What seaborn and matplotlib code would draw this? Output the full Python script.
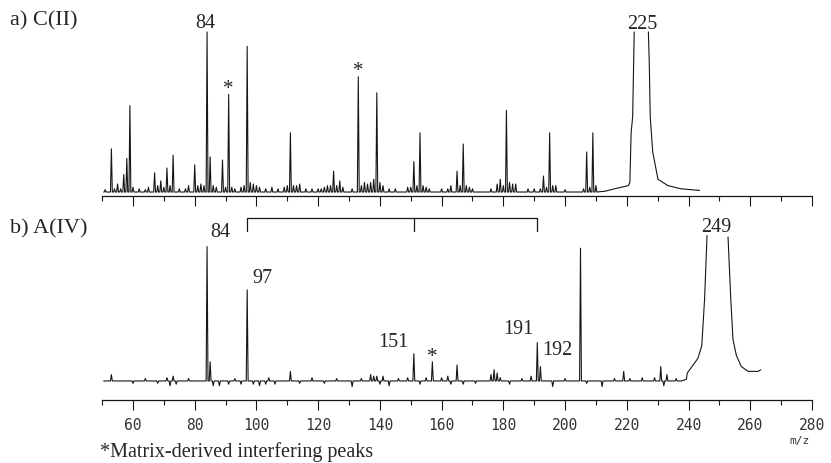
import numpy as np
import pandas as pd
import matplotlib.pyplot as plt
import seaborn as sns

# ---- a) C(II): stick peaks, relative height (m/z 84 = 100)
a_mz = [51, 53, 54, 55, 56, 57, 58, 59, 60, 62, 64, 65, 67, 68, 69, 70, 71, 72, 73, 75,
        77, 78, 80, 81, 82, 83, 84, 85, 86, 87, 89, 90, 91, 92, 93, 95, 96, 97, 98, 99,
        100, 101, 103, 105, 107, 109, 110, 111, 112, 113, 114, 116, 118, 120, 121, 122, 123, 124, 125, 126,
        127, 128, 131, 133, 134, 135, 136, 137, 138, 139, 140, 141, 143, 145, 149, 150, 151, 152, 153, 154,
        155, 156, 160, 162, 163, 165, 166, 167, 168, 169, 170, 176, 178, 179, 180, 181, 182, 183, 184, 188,
        190, 192, 193, 194, 195, 196, 197, 200, 206, 207, 208, 209, 210]
a_int = [1.5, 27, 2, 5, 2, 11, 21, 54, 3, 2, 1.5, 3, 12, 4, 7, 3, 15, 4, 23, 2,
         2, 4, 17, 4, 5, 4, 100, 22, 4, 3, 20, 3, 61, 3, 2, 3, 4, 91, 6, 5,
         4, 3, 2, 3, 2, 3, 4, 37, 4, 4, 5, 2, 2, 2, 2, 3, 4, 4, 13, 4,
         7, 3, 2, 72, 4, 6, 5, 6, 8, 62, 6, 4, 2, 2, 3, 3, 19, 4, 37, 4,
         3, 2, 2, 2, 4, 13, 4, 30, 4, 3, 2, 2, 5, 8, 4, 51, 6, 5, 5, 2,
         2, 2, 10, 3, 37, 4, 4, 1.5, 2, 25, 3, 37, 4]
# broad m/z 225 ion, off scale: rising edge, then falling edge
a_rise_mz = [213.0, 216.0, 220.5, 221.0, 221.4, 221.9, 222.4]
a_rise_int = [0.5, 2, 4, 6, 37, 47, 100]
a_fall_mz = [227.0, 227.3, 227.6, 228.4, 230.1, 233.3, 237.6, 243.6]
a_fall_int = [100, 79, 47, 25, 8, 4, 2, 1]

# ---- b) A(IV): stick peaks (negative = baseline dips)
b_mz = [53, 60, 64, 68, 71, 72, 73, 74, 78, 84, 85, 86, 88, 91, 93, 95, 97, 99, 101, 103,
        104, 106, 111, 114, 118, 122, 126, 131, 134, 137, 138, 139, 140, 141, 143, 146, 149, 151, 153, 155,
        157, 160, 162, 163, 165, 167, 171, 176, 177, 178, 179, 182, 186, 189, 191, 192, 196, 200, 205, 207,
        212, 216, 219, 221, 225, 229, 231, 232, 233, 236]
b_int = [4, -1.5, 1.5, -1.5, 2, -3, 3, -2, 1.5, 84, 12, -3, -3, -2, 1.5, -2, 57, -2, -3, -2,
         2, -2, 6, -1.5, 2, -1.5, 1.5, -3.5, 1.5, 4, 3, 3, -2, 3, -3, 1.5, 2, 17, -2, 2,
         12, 2, 3, -2, 10, -2, -1.5, 4, 7, 5, 2, -2, 1.5, 3, 24, 9, -3.5, 1.5, 83, -1.5,
         -3.5, 1.5, 6, 1.5, 2, 2, 9, -3, 4, 1.5]
b_rise_mz = [237.7, 239.3, 239.6, 243.0, 244.3, 245.2, 246.0]
b_rise_int = [0, 1, 5, 14, 22, 51, 91]
b_fall_mz = [252.8, 253.7, 254.4, 255.5, 257.1, 259.3, 262.6, 263.4]
b_fall_int = [90, 51, 26, 16, 9, 6, 6, 7]

major_ticks = list(range(60, 281, 20))
minor_ticks = list(range(50, 281, 10))


def build_trace(mz, inten, rise_mz, rise_int, fall_mz, fall_int, start=50.5, hw=0.3):
    xs, ys = [start], [0.0]
    for m, h in zip(mz, inten):
        xs += [m - hw, m, m + hw]
        ys += [0.0, h, 0.0]
    xs += rise_mz
    ys += rise_int
    seg = [0] * len(xs)
    xs += fall_mz
    ys += fall_int
    seg += [1] * len(fall_mz)
    return pd.DataFrame({"mz": xs, "inten": ys, "seg": seg})


sns.set_style("ticks")
plt.rcParams["font.family"] = ["Liberation Serif", "DejaVu Serif"]

ink = "#161616"
fig = plt.figure(figsize=(8.31, 4.64), dpi=100)
ax_a = fig.add_axes([0.1229, 0.5754, 0.8542, 0.3815])
ax_b = fig.add_axes([0.1229, 0.1358, 0.8542, 0.4009])

df_a = build_trace(a_mz, a_int, a_rise_mz, a_rise_int, a_fall_mz, a_fall_int)
df_b = build_trace(b_mz, b_int, b_rise_mz, b_rise_int, b_fall_mz, b_fall_int)

sns.lineplot(data=df_a, x="mz", y="inten", units="seg", estimator=None, sort=False,
             color=ink, lw=0.8, ax=ax_a)
sns.lineplot(data=df_b, x="mz", y="inten", units="seg", estimator=None, sort=False,
             color=ink, lw=0.8, ax=ax_b)

ax_a.set_ylim(-2.5, 108.1)
ax_b.set_ylim(-11.9, 104.4)

for ax in (ax_a, ax_b):
    ax.set_xlim(50, 280)
    ax.set_xticks(major_ticks)
    ax.set_xticks(minor_ticks, minor=True)
    ax.set_yticks([])
    ax.set_xlabel("")
    ax.set_ylabel("")
    ax.patch.set_alpha(0)
    for s in ("top", "left", "right"):
        ax.spines[s].set_visible(False)
    ax.spines["bottom"].set_color(ink)
    ax.spines["bottom"].set_linewidth(0.9)
    ax.tick_params(axis="x", which="major", length=7, width=0.8, color=ink)
    ax.tick_params(axis="x", which="minor", length=3.5, width=0.8, color=ink)

ax_a.tick_params(axis="x", labelbottom=False)
ax_b.tick_params(axis="x", which="major", pad=5, labelsize=10.5, labelcolor="#333333")
for lab in ax_b.get_xticklabels():
    lab.set_family("DejaVu Sans Mono")

# panel a labels
peak_fs = 14.5
star_fs = 15
ax_a.text(83.5, 102.8, "84", ha="center", va="baseline", fontsize=peak_fs)
ax_a.text(225.0, 102.5, "225", ha="center", va="baseline", fontsize=peak_fs)
ax_a.text(91, 62, "*", ha="center", va="baseline", fontsize=star_fs)
ax_a.text(133, 73, "*", ha="center", va="baseline", fontsize=star_fs)

# panel b labels
ax_b.text(85.0, 90.6, "84", ha="left", va="baseline", fontsize=peak_fs)
ax_b.text(98.6, 61.9, "97", ha="left", va="baseline", fontsize=peak_fs)
ax_b.text(149.2, 21.9, "151", ha="right", va="baseline", fontsize=peak_fs)
ax_b.text(156.8, 12.5, "*", ha="center", va="baseline", fontsize=star_fs)
ax_b.text(189.6, 30.0, "191", ha="right", va="baseline", fontsize=peak_fs)
ax_b.text(192.5, 16.9, "192", ha="left", va="baseline", fontsize=peak_fs)
ax_b.text(248.9, 93.8, "249", ha="center", va="baseline", fontsize=peak_fs)

# bracket 97 - 151 - 191
ax_b.plot([97, 97, 191, 191], [93.8, 101.9, 101.9, 93.8], color=ink, lw=0.9)
ax_b.plot([151, 151], [101.9, 93.8], color=ink, lw=0.9)

fig.text(10 / 831, 1 - 25 / 464, "a) C(II)", fontsize=16, va="baseline")
fig.text(10 / 831, 1 - 233 / 464, "b) A(IV)", fontsize=16, va="baseline")
fig.text(799 / 831, 1 - 441 / 464, "m/z", family="DejaVu Sans Mono", fontsize=8,
         ha="center", va="center", color="#333333")
fig.text(100 / 831, 1 - 457 / 464, "*Matrix-derived interfering peaks", fontsize=14.5,
         va="baseline")

fig.savefig("out.png", dpi=100)
